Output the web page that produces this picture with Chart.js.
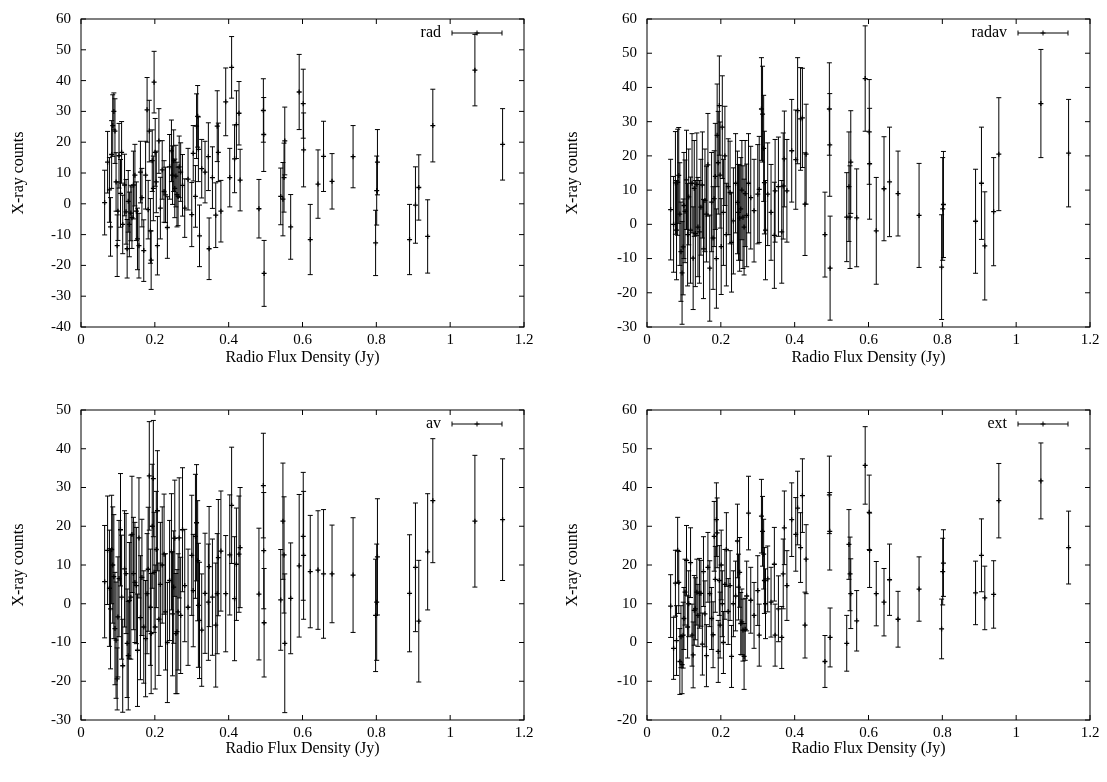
<!DOCTYPE html>
<html>
<head>
<meta charset="utf-8">
<script src="https://cdn.jsdelivr.net/npm/chart.js@4/dist/chart.umd.min.js"></script>
<style>
  body { margin: 0; background: #fff; }
  .panel { position: absolute; width: 553px; height: 391px; }
</style>
</head>
<body>
<div class="panel" style="left:0px;top:0px"><canvas id="c1" width="553" height="391"></canvas></div>
<div class="panel" style="left:554px;top:0px"><canvas id="c2" width="553" height="391"></canvas></div>
<div class="panel" style="left:0px;top:391px"><canvas id="c3" width="553" height="391"></canvas></div>
<div class="panel" style="left:554px;top:391px"><canvas id="c4" width="553" height="391"></canvas></div>
<script>
// radio flux density of each source (Jy), same sources in all four panels
const flux = [
  0.064, 0.072, 0.077, 0.080, 0.083, 0.086, 0.089, 0.092, 0.095, 0.098, 0.100, 0.103,
  0.107, 0.110, 0.113, 0.118, 0.122, 0.125, 0.128, 0.131, 0.135, 0.138, 0.142, 0.146,
  0.150, 0.153, 0.157, 0.161, 0.165, 0.170, 0.175, 0.179, 0.182, 0.185, 0.188, 0.190,
  0.193, 0.196, 0.198, 0.201, 0.204, 0.207, 0.211, 0.215, 0.220, 0.225, 0.229, 0.234,
  0.240, 0.245, 0.248, 0.251, 0.254, 0.257, 0.260, 0.263, 0.266, 0.270, 0.275, 0.281,
  0.290, 0.300, 0.304, 0.310, 0.313, 0.316, 0.318, 0.321, 0.327, 0.336, 0.345, 0.347,
  0.356, 0.365, 0.369, 0.372, 0.379, 0.392, 0.403, 0.408, 0.416, 0.421, 0.428, 0.431,
  0.482, 0.494, 0.495, 0.496, 0.541, 0.547, 0.550, 0.552, 0.568, 0.591, 0.602, 0.603,
  0.621, 0.642, 0.657, 0.680, 0.737, 0.798, 0.801, 0.803, 0.890, 0.906, 0.915, 0.939,
  0.953, 1.067, 1.142
];

const radCounts = [
  0.4, 13.5, 4.5, -7.5, 16, 25.4, 30, 23.6, 7.1, -13.6, -2.4, 15.6,
  3.4, 16.7, -6.7, 6.1, -2.6, -14.6, 0.8, -6.7, -3.0, -4.5, 6.1, 9.3,
  -2.4, -11.4, -13.6, 10.3, 2, -15.2, 9.3, 30.5, -1.9, 23.6, -8.8, -18.3,
  14, 5, 39.5, 16.7, 7.1, -13.6, 20.4, -1.4, 11, 4, 2.9, -7.7,
  12, 17.2, 9.3, 14, 5, 9, 3, 2.4, 12, 10.3, 6, -1.4,
  8, -3.5, 16.4, 2.4, 25.2, 28.4, 17.7, -10.4, 11.4, 10.3, 15.3, -14.6,
  8.5, -3.7, 25.2, 16.7, -2.4, 33.1, 8.5, 44.3, 14.6, 25.7, 29.4, 7.7,
  -1.6, 30.3, 22.5, -22.6, 2.4, 1.5, 8.5, 20.4, -7.5, 36.3, 32.5, 17.5,
  -11.6, 6.4, 15.4, 7.3, 15.3, -12.7, 4.3, 13.5, -11.6, -0.4, 5.3, -10.6,
  25.4, 43.4, 19.3
];
const radErr = [
  10.5, 10, 10.5, 9.5, 11, 10, 6, 10.5, 9.5, 10, 9.5, 10.5,
  11, 10, 9.5, 10, 10.5, 9.5, 10, 10.5, 9, 10, 11, 10,
  9.5, 10, 10.5, 10, 9.5, 10, 11, 10.5, 9.5, 10, 10.5, 9.5,
  10, 10.5, 10, 11, 10, 9.5, 10.5, 10, 9.5, 10, 9, 10,
  10.5, 10, 9.5, 10, 9.5, 10, 10.5, 9.5, 10, 9.5, 10, 9.5,
  10, 10.4, 9, 10, 10.5, 10, 10.5, 10, 9.5, 10, 11, 10,
  10, 10.5, 11.5, 9.5, 10, 11, 9.5, 10, 11, 11, 10.3, 10,
  9.5, 10.3, 12, 10.7, 9.2, 11.9, 11.2, 11, 10.5, 12.2, 11.2, 12,
  11.4, 11.1, 11.4, 9, 10.1, 10.6, 11.2, 10.6, 11.4, 12.4, 10.6, 11.9,
  11.8, 11.6, 11.6
];

const radavCounts = [
  4.3, 0.0, 12.1, -1.7, 12.3, 14.3, 3.0, -8.0, -14.2, -6.6, 5.5, 3.8,
  13, -3, 8, -1.7, 12.0, -9.9, 10.5, -2.7, 11.7, -0.8, -2.2, 5,
  11.5, -7.2, 7, 3.0, 17.4, -12.8, 6.5, -4, 7.5, 14, -10, 26,
  18, 34.7, 14.4, -6.5, 28.4, 3.5, 20, -3, 11, 9.3, -5.3, 1,
  12, 6.4, 3.5, 1.8, 4.5, 10, 2.1, -0.8, 9, 2.6, 12, 7.8,
  4, 8.8, 10.2, 33.7, 32.2, 22.2, 12.2, -1.7, 8.8, 3.5, -3.2, 9.8,
  11, -2.2, 11.2, 19.1, 9.8, 21.5, 18.9, 33.2, 30.8, 31.1, 5.9, 20.5,
  -3.0, 33.7, 23.2, -12.8, 2.1, 11.0, 2.1, 18.2, 1.9, 42.6, 27.0, 17.7,
  -1.9, 10.4, 12.4, 9.0, 2.6, -12.5, 4.5, 5.8, 0.9, 12.0, -6.3, 3.7,
  20.5, 35.3, 20.8
];
const radavErr = [
  14.7, 14, 15, 14.5, 15.5, 14, 15, 14.5, 15, 14, 15.5, 15,
  14.5, 15, 14, 15.5, 14.5, 15, 14, 15.5, 15, 14.5, 15, 14,
  15.5, 14.5, 15, 14, 15, 15.5, 14.5, 15, 14, 15.5, 14.5, 15,
  15, 14.5, 15.5, 14, 15, 15.5, 14.5, 15, 14, 15, 14.5, 15.5,
  14.5, 15, 14, 15.5, 15, 14.5, 15, 14, 15.5, 15, 14.5, 15,
  15, 14.5, 15.5, 15, 14, 15.5, 15, 14.5, 15, 14, 15.5, 15,
  14.5, 15, 15.5, 14, 15, 15, 14.5, 15.5, 15, 14.5, 15, 14.6,
  12.4, 13.5, 15, 15.2, 13, 16, 15, 15, 14.3, 15.4, 15.3, 16.2,
  15.6, 15.2, 16, 12.4, 15.2, 15.3, 15, 15.5, 15.2, 16.4, 15.8, 15.8,
  16.5, 15.8, 15.7
];

const avCounts = [
  5.7, 13.8, 4.0, -1.3, 14.0, 10.0, 7.0, -6.4, -9.4, -19.4, -3.4, 6.5,
  19.1, 1.7, -16, 9, 7.8, -10.2, -13.4, 0.8, 1.7, 17.9, 7.8, 5.5,
  4.7, -12, 17.0, -3.6, 6.8, -6.0, -9.0, 2.6, 8.9, 33.0, -0.9, -7.7,
  20, 32.3, 8.1, -6.0, 14.0, 24, -4, 5, 10, 12.8, -2.1, -10,
  6, 13.4, -2.6, 4.3, 16.9, -7.7, -7.2, -2.1, 17, -3, 19.1, 4.7,
  -0.9, 12.5, 3.4, 17.4, 20.9, 11.1, -0.4, -4.3, -6.8, 2.7, 0.4, 9.6,
  1.7, -5.5, 2.6, 11.9, 13.6, 2.6, 12.6, 25.4, 1.3, 10.2, 12.8, 14.5,
  2.5, 30.5, 13.7, -4.9, 1.0, 21.3, 12.6, -10.2, 1.4, 9.8, 17.4, 12.5,
  8.3, 8.7, 7.7, 7.7, 7.4, -3.0, 0.4, 12.1, 2.7, 9.4, -4.5, 13.4,
  26.6, 21.3, 21.7
];
const avErr = [
  14.5, 14, 15, 15.5, 14, 15, 16, 14.5, 15, 8, 15.5, 15,
  14.5, 16, 12, 15, 15.5, 14, 14, 15, 16, 15, 14.5, 15.5,
  15, 14.5, 15.5, 16, 15, 14.5, 15, 15.5, 16, 14, 15, 15.5,
  16, 15, 15.5, 16, 15, 15.5, 14.5, 16, 15, 15.5, 15, 15.5,
  15.5, 15, 16, 14.5, 15, 15.5, 16, 15, 15.5, 15, 16, 14.5,
  15, 15.5, 14.5, 16, 15, 15.5, 16, 15, 14.5, 15.5, 15, 15.5,
  15, 16, 15.5, 15, 15.5, 15, 15.5, 15, 16, 14.5, 15, 15.5,
  17, 13.5, 15, 14, 13, 15, 15, 17.9, 14.3, 18.4, 16.5, 16.5,
  14.5, 15.3, 16.6, 12.6, 14.8, 14.5, 15, 15, 15.1, 16.6, 15.7, 15,
  16, 17, 15.7
];

const extCounts = [
  9.4, -1.5, 15.3, 0.5, 23.8, 15.5, -4.9, 1.5, -5.7, 1.9, 6.2, 13.0,
  21.2, 4, 10, 20.6, 1.9, -3.2, 8.3, 8.7, 13, 7.0, 12.7, 12.7,
  -0.4, 18.3, 7.4, -3.4, 19.4, 12.6, 6.2, 2, 27.4, 16.3, 31.7, 28.3,
  -2.3, 16, 4.5, 20, 10, 0, 15, 24, 8, 14.7, -3.6, 10,
  12, 26.2, 14.3, 18.1, 4.9, 5.3, 3.2, -3.6, 3.4, 12, 33.4, 10.9,
  7, 13.4, 1.9, 32.6, 28.7, 22.8, 16.0, 10.0, 16.4, 10.4, 20.2, 1.9,
  8.7, 1.3, 17.7, 29.6, 14.7, 31.7, 27.9, 34.7, 24.5, 37.9, 4.5, 21.5,
  -4.9, 38.1, 28.7, 1.3, -0.2, 25.3, 17.7, 12.6, 5.6, 45.7, 33.6, 23.8,
  12.6, 10.4, 16.2, 6.0, 13.8, 3.5, 18.3, 20.5, 12.8, 22.5, 11.5, 12.4,
  36.6, 41.7, 24.5
];
const extErr = [
  8.1, 8, 8.5, 9, 8.5, 8, 8.5, 8, 7.5, 8.5, 8, 8.5,
  9, 8, 8.5, 9, 8, 8.5, 9, 8, 8.5, 8, 9, 8.5,
  8, 9, 8.5, 8, 9, 8.5, 8, 8.5, 9, 8.5, 9.5, 9,
  8, 9, 8.5, 9, 8.5, 8, 9, 9.5, 8.5, 9, 8, 8.5,
  9, 9.5, 8.5, 9, 8, 8.5, 8, 8.5, 8, 9, 9.5, 8.5,
  8.5, 9, 8, 9.5, 9, 9, 8.5, 9, 8.5, 9, 9.5, 8,
  8.5, 8, 9, 9.5, 9, 9.5, 9.5, 9.5, 9, 9.5, 8.5, 8.9,
  6.7, 10, 10, 7.6, 7.2, 9, 9.5, 9, 7.8, 10, 9.6, 9.6,
  8.3, 8.7, 9.2, 7.2, 8.3, 7.7, 8.6, 8.6, 8.2, 9.4, 8.2, 8.7,
  9.6, 9.8, 9.4
];

const xTitle = "Radio Flux Density (Jy)";
const yTitle = "X-ray counts";
const FONT = "'Liberation Serif', 'DejaVu Serif', serif";

const panels = [
  { id: "c1", key: "rad",   counts: radCounts,   err: radErr,   yMin: -40, yMax: 60, left: 72, top: 14, right: 29 },
  { id: "c2", key: "radav", counts: radavCounts, err: radavErr, yMin: -30, yMax: 60, left: 84, top: 14, right: 17 },
  { id: "c3", key: "av",    counts: avCounts,    err: avErr,    yMin: -30, yMax: 50, left: 72, top: 16, right: 29 },
  { id: "c4", key: "ext",   counts: extCounts,   err: extErr,   yMin: -20, yMax: 60, left: 84, top: 16, right: 17 }
];

// error bars, mirrored inner ticks, frame and the key, gnuplot style
const gnuStyle = {
  id: "gnuStyle",
  beforeDatasetsDraw(chart) {
    const ctx = chart.ctx, xs = chart.scales.x, ys = chart.scales.y, a = chart.chartArea;
    ctx.save();
    ctx.beginPath();
    ctx.rect(a.left, a.top, a.right - a.left, a.bottom - a.top);
    ctx.clip();
    ctx.strokeStyle = "#000";
    ctx.lineWidth = 1;
    chart.data.datasets[0].data.forEach(function (p) {
      var px = xs.getPixelForValue(p.x);
      var y1 = ys.getPixelForValue(p.y + p.e);
      var y2 = ys.getPixelForValue(p.y - p.e);
      ctx.beginPath();
      ctx.moveTo(px, y1); ctx.lineTo(px, y2);
      ctx.moveTo(px - 2.5, y1); ctx.lineTo(px + 2.5, y1);
      ctx.moveTo(px - 2.5, y2); ctx.lineTo(px + 2.5, y2);
      ctx.stroke();
    });
    ctx.restore();
  },
  afterDraw(chart) {
    const ctx = chart.ctx, xs = chart.scales.x, ys = chart.scales.y, a = chart.chartArea;
    ctx.save();
    ctx.strokeStyle = "#000";
    ctx.lineWidth = 1;
    ctx.strokeRect(a.left, a.top, a.right - a.left, a.bottom - a.top);
    ctx.beginPath();
    xs.ticks.forEach(function (t) {
      var px = xs.getPixelForValue(t.value);
      ctx.moveTo(px, a.bottom); ctx.lineTo(px, a.bottom - 5);
      ctx.moveTo(px, a.top); ctx.lineTo(px, a.top + 5);
    });
    ys.ticks.forEach(function (t) {
      var py = ys.getPixelForValue(t.value);
      ctx.moveTo(a.left, py); ctx.lineTo(a.left + 5, py);
      ctx.moveTo(a.right, py); ctx.lineTo(a.right - 5, py);
    });
    ctx.stroke();

    // key
    var label = chart.options.plugins.gnuStyle.key;
    var ky = a.top + 14;
    ctx.fillStyle = "#000";
    ctx.font = "16px " + FONT;
    ctx.textAlign = "right";
    ctx.textBaseline = "middle";
    ctx.fillText(label, a.right - 83, ky);
    var x1 = a.right - 72, x2 = a.right - 22, xm = (x1 + x2) / 2;
    ctx.beginPath();
    ctx.moveTo(x1, ky); ctx.lineTo(x2, ky);
    ctx.moveTo(x1, ky - 2.5); ctx.lineTo(x1, ky + 2.5);
    ctx.moveTo(x2, ky - 2.5); ctx.lineTo(x2, ky + 2.5);
    ctx.moveTo(xm - 2.5, ky); ctx.lineTo(xm + 2.5, ky);
    ctx.moveTo(xm, ky - 2.5); ctx.lineTo(xm, ky + 2.5);
    ctx.stroke();
    ctx.restore();
  }
};

Chart.defaults.font.family = FONT;
Chart.defaults.font.size = 15;
Chart.defaults.color = "#000";

panels.forEach(function (pn) {
  var points = flux.map(function (f, i) {
    return { x: f, y: pn.counts[i], e: pn.err[i] };
  });
  new Chart(document.getElementById(pn.id), {
    type: "scatter",
    data: {
      datasets: [{
        label: pn.key,
        data: points,
        pointStyle: "cross",
        pointRadius: 2.5,
        pointBorderWidth: 1.3,
        borderColor: "#000",
        backgroundColor: "#000"
      }]
    },
    options: {
      responsive: false,
      animation: false,
      devicePixelRatio: 1,
      layout: { padding: { left: 9, top: pn.top, right: pn.right, bottom: 0 } },
      plugins: {
        legend: { display: false },
        tooltip: { enabled: false },
        gnuStyle: { key: pn.key }
      },
      scales: {
        x: {
          type: "linear",
          min: 0,
          max: 1.2,
          afterFit: function (s) { s.height = 391 - pn.top - 313; },
          grid: { display: false, drawTicks: false, tickLength: 0 },
          border: { display: false },
          ticks: {
            stepSize: 0.2,
            autoSkip: false,
            maxRotation: 0,
            padding: 4,
            callback: function (v) { return String(Math.round(v * 10) / 10); }
          },
          title: { display: true, text: xTitle, font: { size: 16 }, padding: { top: 0, bottom: 24 } }
        },
        y: {
          type: "linear",
          min: pn.yMin,
          max: pn.yMax,
          afterFit: function (s) { s.width = pn.left; },
          grid: { display: false, drawTicks: false, tickLength: 0 },
          border: { display: false },
          ticks: {
            stepSize: 10,
            autoSkip: false,
            padding: 10,
            callback: function (v) { return String(v); }
          },
          title: { display: true, text: yTitle, font: { size: 16 }, padding: { top: 0, bottom: 0 } }
        }
      }
    },
    plugins: [gnuStyle]
  });
});
</script>
</body>
</html>
